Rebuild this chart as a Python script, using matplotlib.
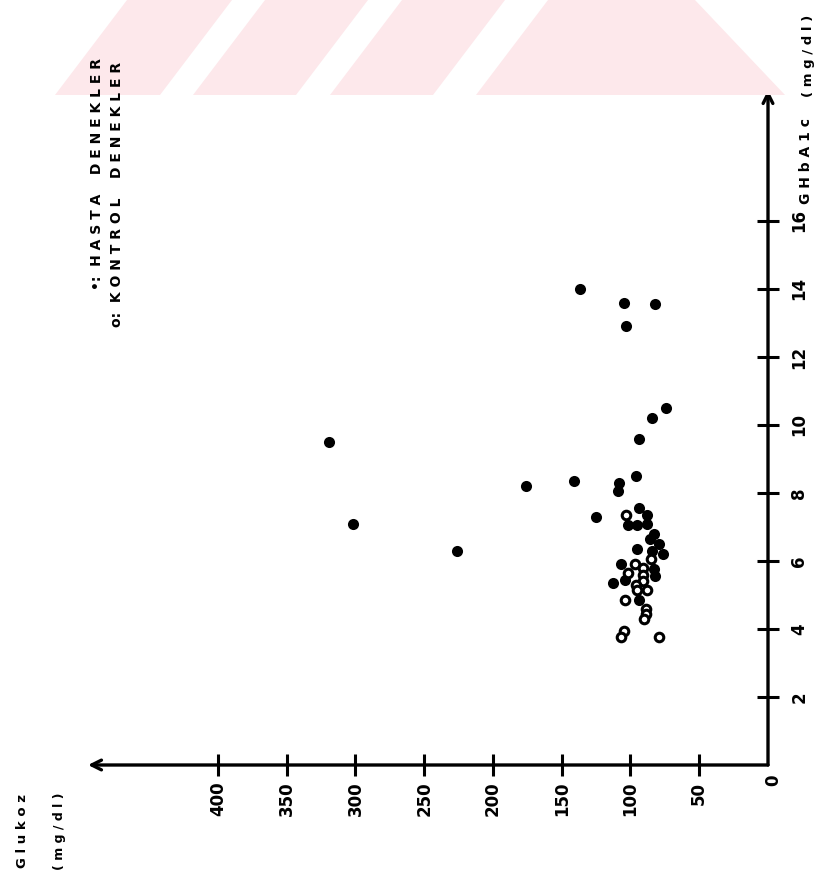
import matplotlib.pyplot as plt
from matplotlib.patches import Polygon

W, H = 821, 877

# HASTA denekler (filled dots): glucose (mg/dl) and GHbA1c
hasta_glukoz = [319, 302, 226, 137, 105, 82, 103, 74, 84, 94, 96, 176, 141, 108, 109,
                125, 94, 88, 102, 95, 88, 83, 86, 79, 95, 84, 76, 107, 83, 82, 104, 113, 94]
hasta_ghb = [9.5, 7.1, 6.3, 14.0, 13.6, 13.55, 12.9, 10.5, 10.2, 9.6, 8.5, 8.2, 8.35, 8.3, 8.05,
             7.3, 7.55, 7.35, 7.05, 7.05, 7.1, 6.8, 6.65, 6.5, 6.35, 6.3, 6.2, 5.9, 5.75, 5.55, 5.45, 5.35, 4.85]

# KONTROL denekler (open circles)
kontrol_glukoz = [103, 85, 97, 91, 102, 91, 91, 96, 88, 95, 104, 89, 89, 90, 105, 107, 79]
kontrol_ghb = [7.35, 6.05, 5.9, 5.8, 5.65, 5.6, 5.4, 5.3, 5.15, 5.15, 4.85, 4.6, 4.45, 4.3, 3.95, 3.75, 3.75]

glukoz_ticks = [50, 100, 150, 200, 250, 300, 350, 400]
ghb_ticks = [2, 4, 6, 8, 10, 12, 14, 16]

plt.rcParams['font.family'] = 'DejaVu Sans'
plt.rcParams['font.weight'] = 'bold'

fig = plt.figure(figsize=(W / 100, H / 100), dpi=100)


def fx(x):
    return x / W


def fy(y):
    return 1 - y / H


# pink watermark stripes at the top of the scanned page
pink = '#fde8eb'
stripes = [
    [(55, 95), (160, 95), (232, 0), (127, 0)],
    [(193, 95), (296, 95), (368, 0), (265, 0)],
    [(330, 95), (433, 95), (505, 0), (402, 0)],
    [(476, 95), (785, 95), (695, 0), (548, 0)],
]
for s in stripes:
    fig.patches.append(Polygon([(fx(x), fy(y)) for x, y in s], closed=True,
                               transform=fig.transFigure, facecolor=pink,
                               edgecolor='none', zorder=0))

# the chart is printed rotated: glucose runs right-to-left, GHbA1c runs upward
ax = fig.add_axes([fx(88), fy(765), 680 / W, 675 / H])
ax.set_xlim(494.5, 0)
ax.set_ylim(0, 19.85)
ax.patch.set_alpha(0)
for sp in ax.spines.values():
    sp.set_visible(False)

arrow = dict(arrowstyle='->,head_length=0.7,head_width=0.35', lw=2.4, color='black',
             shrinkA=0, shrinkB=0)
ax.annotate('', xy=(494.5, 0), xytext=(0, 0), arrowprops=arrow, annotation_clip=False)
ax.annotate('', xy=(0, 19.85), xytext=(0, 0), arrowprops=arrow, annotation_clip=False)

ax.set_xticks(glukoz_ticks)
ax.set_xticklabels([str(t) for t in glukoz_ticks])
ax.tick_params(axis='x', direction='inout', length=16, width=2.2, pad=4,
               labelrotation=90, labelsize=12)

ax.yaxis.tick_right()
ax.set_yticks(ghb_ticks)
ax.set_yticklabels([str(t) for t in ghb_ticks])
ax.tick_params(axis='y', direction='inout', length=16, width=2.2, pad=8,
               labelrotation=90, labelsize=12)
for lbl in ax.get_yticklabels():
    lbl.set_va('center')

ax.scatter(hasta_glukoz, hasta_ghb, s=64, c='black', linewidths=0, clip_on=False, zorder=3)
ax.scatter(kontrol_glukoz, kontrol_ghb, s=38, facecolors='white', edgecolors='black',
           linewidths=2.2, clip_on=False, zorder=4)

# texts (all rotated like the page)
fig.text(fx(773), fy(774), '0', rotation=90, ha='center', va='top', fontsize=12)
fig.text(fx(97), fy(290), '•:  H A S T A    D E N E K L E R', rotation=90,
         ha='center', va='bottom', fontsize=10)
fig.text(fx(117), fy(327), 'o:  K O N T R O L    D E N E K L E R', rotation=90,
         ha='center', va='bottom', fontsize=10)
fig.text(fx(806), fy(204), 'G H b A 1 c', rotation=90, ha='center', va='bottom', fontsize=10)
fig.text(fx(808), fy(97), '( m g / d l )', rotation=90, ha='center', va='bottom', fontsize=9.5)
fig.text(fx(22), fy(868), 'G l u k o z', rotation=90, ha='center', va='bottom', fontsize=9.5)
fig.text(fx(60), fy(870), '( m g / d l )', rotation=90, ha='center', va='bottom', fontsize=9)

fig.savefig('out.png', dpi=100)
